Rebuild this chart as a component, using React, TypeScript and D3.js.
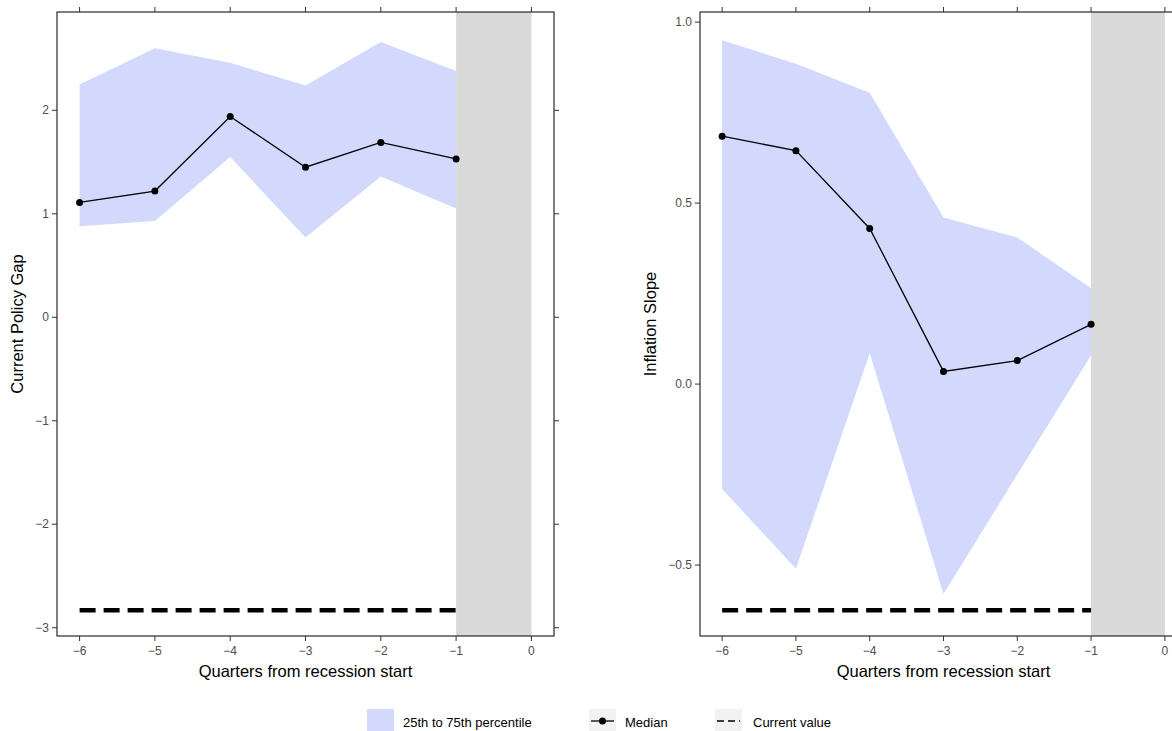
import * as d3 from "d3";

const quarters = [-6, -5, -4, -3, -2, -1];
const gapMedian = [1.11, 1.22, 1.94, 1.45, 1.69, 1.53];
const gapUpper = [2.25, 2.6, 2.46, 2.24, 2.66, 2.38];
const gapLower = [0.88, 0.93, 1.55, 0.77, 1.36, 1.05];
const gapCurrent = -2.83;
const slopeMedian = [0.685, 0.645, 0.43, 0.035, 0.065, 0.165];
const slopeUpper = [0.95, 0.885, 0.805, 0.46, 0.405, 0.265];
const slopeLower = [-0.29, -0.51, 0.085, -0.58, -0.25, 0.08];
const slopeCurrent = -0.625;
const xTicks = [-6, -5, -4, -3, -2, -1, 0];

const font = "Liberation Sans, Arial, sans-serif";

interface PanelProps {
  left: number;
  right: number;
  yDomain: [number, number];
  yTicks: number[];
  yFmt: (v: number) => string;
  median: number[];
  upper: number[];
  lower: number[];
  current: number;
  yTitle: string;
  titleX: number;
}

function Panel(p: PanelProps) {
  const top = 12, bottom = 636;
  const x = d3.scaleLinear().domain([-6.3, 0.3]).range([p.left, p.right]);
  const y = d3.scaleLinear().domain(p.yDomain).range([bottom, top]);
  const area = d3
    .area<number>()
    .x((_, i) => x(quarters[i]))
    .y0((_, i) => y(p.lower[i]))
    .y1((d) => y(d));
  const line = d3
    .line<number>()
    .x((_, i) => x(quarters[i]))
    .y((d) => y(d));
  const id = "clip" + p.left;
  return (
    <g>
      <defs>
        <clipPath id={id}>
          <rect x={p.left} y={top} width={p.right - p.left} height={bottom - top} />
        </clipPath>
      </defs>
      <g clipPath={`url(#${id})`}>
        <path d={area(p.upper) ?? ""} fill="#d3d9fd" />
        <rect x={x(-1)} y={top} width={x(0) - x(-1)} height={bottom - top} fill="#d9d9d9" />
        <path d={line(p.median) ?? ""} fill="none" stroke="#000" strokeWidth={1.3} />
        {p.median.map((d, i) => (
          <circle key={i} cx={x(quarters[i])} cy={y(d)} r={3.5} fill="#000" />
        ))}
        <line x1={x(-6)} x2={x(-1)} y1={y(p.current)} y2={y(p.current)} stroke="#000" strokeWidth={4.5} strokeDasharray="16,8" />
      </g>
      <rect x={p.left} y={top} width={p.right - p.left} height={bottom - top} fill="none" stroke="#000" strokeWidth={1} />
      {xTicks.map((t) => (
        <g key={t}>
          <line x1={x(t)} x2={x(t)} y1={bottom} y2={bottom + 5} stroke="#333" />
          <line x1={x(t)} x2={x(t)} y1={top} y2={top - 5} stroke="#333" />
          <text x={x(t)} y={bottom + 19} textAnchor="middle" fontSize={12} fill="#4d4d4d" fontFamily={font}>
            {t < 0 ? "\u2212" + -t : t}
          </text>
        </g>
      ))}
      {p.yTicks.map((t) => (
        <g key={t}>
          <line x1={p.left - 5} x2={p.left} y1={y(t)} y2={y(t)} stroke="#333" />
          <line x1={p.right} x2={p.right + 5} y1={y(t)} y2={y(t)} stroke="#333" />
          <text x={p.left - 8} y={y(t) + 4} textAnchor="end" fontSize={12} fill="#4d4d4d" fontFamily={font}>
            {p.yFmt(t)}
          </text>
        </g>
      ))}
      <text x={(p.left + p.right) / 2} y={677} textAnchor="middle" fontSize={16.5} fontFamily={font}>
        Quarters from recession start
      </text>
      <text transform={`translate(${p.titleX},${(top + bottom) / 2}) rotate(-90)`} textAnchor="middle" fontSize={16.5} fontFamily={font}>
        {p.yTitle}
      </text>
    </g>
  );
}

export default function App() {
  const minus = (s: string) => s.replace("-", "\u2212");
  return (
    <svg width={1172} height={731} style={{ position: "absolute", left: 0, top: 0, background: "#fff" }}>
      <Panel left={57} right={554} yDomain={[-3.08, 2.95]} yTicks={[-3, -2, -1, 0, 1, 2]} yFmt={(v) => minus(String(v))}
        median={gapMedian} upper={gapUpper} lower={gapLower} current={gapCurrent} yTitle="Current Policy Gap" titleX={23} />
      <Panel left={700} right={1187} yDomain={[-0.696, 1.028]} yTicks={[-0.5, 0, 0.5, 1]} yFmt={(v) => minus(v.toFixed(1))}
        median={slopeMedian} upper={slopeUpper} lower={slopeLower} current={slopeCurrent} yTitle="Inflation Slope" titleX={656} />
      <g fontFamily={font} fontSize={13}>
        <rect x={367} y={709} width={27} height={23} fill="#d3d9fd" />
        <text x={403} y={727}>25th to 75th percentile</text>
        <rect x={589} y={709} width={27} height={23} fill="#f2f2f2" />
        <line x1={591} x2={614} y1={721} y2={721} stroke="#000" strokeWidth={1.3} />
        <circle cx={602.5} cy={721} r={3.5} fill="#000" />
        <text x={625} y={727}>Median</text>
        <rect x={715} y={709} width={27} height={23} fill="#f2f2f2" />
        <line x1={717} x2={740} y1={721} y2={721} stroke="#000" strokeWidth={1.3} strokeDasharray="7,4" />
        <text x={753} y={727}>Current value</text>
      </g>
    </svg>
  );
}
